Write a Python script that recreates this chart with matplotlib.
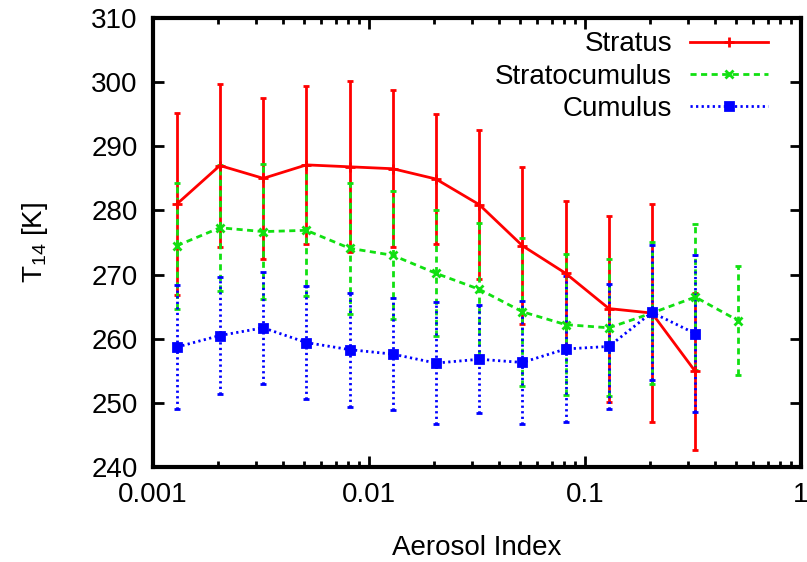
import numpy as np
import matplotlib
matplotlib.use('Agg')
import matplotlib.pyplot as plt
from matplotlib.lines import Line2D
from matplotlib.ticker import FixedLocator, FixedFormatter, LogLocator, NullFormatter

plt.rcParams['font.family'] = ['Liberation Sans', 'DejaVu Sans']
plt.rcParams['mathtext.default'] = 'regular'

# aerosol index bins (log spaced, 0.2 decade)
ai = [0.00129, 0.00204, 0.00324, 0.00513, 0.00813, 0.0129, 0.0204,
      0.0324, 0.0513, 0.0813, 0.129, 0.204, 0.324, 0.513]

stratus_T = [281.0, 287.0, 285.0, 287.1, 286.8, 286.5, 284.9, 280.9,
             274.5, 270.2, 264.7, 264.0, 254.9]
stratus_err = [14.2, 12.7, 12.5, 12.3, 13.3, 12.2, 10.2, 11.6,
               12.2, 11.2, 14.5, 17.0, 12.3]

strato_T = [274.5, 277.3, 276.7, 276.9, 274.1, 273.0, 270.2, 267.7,
            264.2, 262.2, 261.7, 264.0, 266.5, 262.8]
strato_err = [9.8, 9.8, 10.5, 10.2, 10.2, 10.0, 9.8, 10.4,
              11.5, 11.0, 10.7, 11.1, 11.4, 8.5]

cumulus_T = [258.7, 260.5, 261.7, 259.4, 258.3, 257.6, 256.2, 256.8,
             256.3, 258.4, 258.8, 264.1, 260.8]
cumulus_err = [9.6, 9.1, 8.7, 8.8, 8.9, 8.7, 9.5, 8.4,
               9.6, 11.4, 9.8, 10.5, 12.2]

fig = plt.figure(figsize=(8.07, 5.62), dpi=100)
ax = fig.add_axes([0.1896, 0.169, 0.8030, 0.799])

green = '#11e011'
series = [
    ('Stratus', stratus_T, stratus_err, 'red', '-', '+', 7),
    ('Stratocumulus', strato_T, strato_err, green, (0, (2.2, 1.6)), 'x', 6),
    ('Cumulus', cumulus_T, cumulus_err, 'blue', (0, (0.8, 1.2)), 's', 6),
]
handles = []
for name, T, err, col, ls, mk, ms in series:
    x = ai[:len(T)]
    eb = ax.errorbar(x, T, yerr=err, color=col, linestyle=ls, linewidth=2,
                     marker=mk, markersize=ms, markeredgewidth=2,
                     capsize=2.5, capthick=2, elinewidth=2)
    eb[2][0].set_linestyle(ls)
    handles.append(Line2D([], [], color=col, linestyle=ls, linewidth=2,
                          marker=mk, markersize=ms, markeredgewidth=2,
                          label=name))

ax.set_xscale('log')
ax.set_xlim(0.001, 1)
ax.set_ylim(240, 310)
ax.set_yticks(np.arange(240, 311, 10))
ax.xaxis.set_major_locator(FixedLocator([0.001, 0.01, 0.1, 1]))
ax.xaxis.set_major_formatter(FixedFormatter(['0.001', '0.01', '0.1', '1']))
ax.xaxis.set_minor_locator(LogLocator(base=10, subs=np.arange(2, 10)))
ax.xaxis.set_minor_formatter(NullFormatter())

for s in ax.spines.values():
    s.set_linewidth(3)
ax.tick_params(which='both', direction='in', top=True, right=True,
               labelsize=20, width=2)
ax.tick_params(which='major', length=8)
ax.tick_params(axis='y', which='major', pad=11)
ax.tick_params(axis='x', which='major', pad=11)
ax.tick_params(which='minor', length=4)

ax.set_xlabel('Aerosol Index', fontsize=20, labelpad=19)
ax.set_ylabel('T$_{14}$ [K]', fontsize=20, labelpad=30)

ax.legend(handles=handles, loc='upper right', frameon=False,
          markerfirst=False, fontsize=20, handlelength=2.8,
          labelspacing=0.22, borderpad=0, borderaxespad=0,
          handletextpad=0.65, bbox_to_anchor=(0.9517, 0.944),
          bbox_transform=fig.transFigure)

fig.savefig('out.png', dpi=100)
